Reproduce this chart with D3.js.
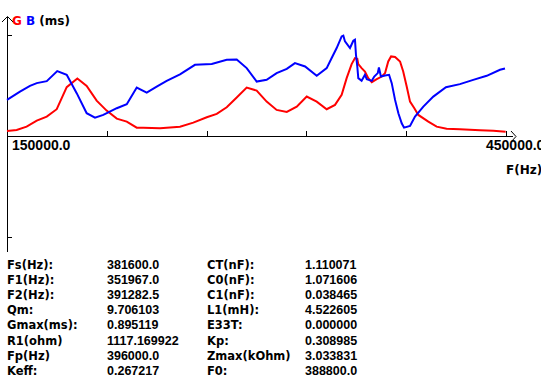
<!DOCTYPE html>
<html>
<head>
<meta charset="utf-8">
<script src="https://cdn.jsdelivr.net/npm/d3@7"></script>
<style>
body{margin:0;background:#fff;overflow:hidden}
text{font-weight:bold}
.names{font-family:'DejaVu Sans',sans-serif}
.nums{font-family:'Liberation Sans',Arial,sans-serif}
</style>
</head>
<body>
<svg id="chart" width="541" height="387"></svg>
<script>
// frequency in kHz, values relative to the top tick
var freqG = [150.0,155.8,161.8,167.9,173.9,179.9,185.9,192.3,197.9,203.9,209.9,216.0,222.0,228.0,231.9,242.0,254.0,262.0,270.1,276.1,282.1,288.1,294.1,300.1,306.1,312.1,318.2,324.2,330.2,336.2,342.2,347.2,351.2,354.2,357.2,359.2,360.6,361.2,363.2,365.2,367.2,369.3,372.3,375.3,377.3,379.2,380.9,383.3,386.3,388.2,390.3,392.3,394.9,397.3,403.3,408.3,414.3,422.3,434.4,442.4,449.8]
var valG = [0.05,0.06,0.093,0.153,0.193,0.267,0.487,0.573,0.50,0.353,0.253,0.173,0.143,0.083,0.083,0.077,0.093,0.133,0.187,0.22,0.287,0.383,0.483,0.453,0.343,0.26,0.24,0.293,0.393,0.343,0.267,0.31,0.41,0.577,0.717,0.777,0.77,0.717,0.677,0.643,0.577,0.537,0.567,0.593,0.627,0.743,0.793,0.787,0.743,0.643,0.493,0.343,0.277,0.21,0.143,0.093,0.073,0.067,0.057,0.053,0.043]

var freqB = [150.0,157.8,163.8,167.9,173.9,180.2,185.9,191.9,197.9,202.9,207.9,216.0,222.0,228.0,234.0,240.0,246.0,254.0,263.0,273.1,282.1,288.1,294.1,300.1,306.1,312.1,318.2,323.1,329.2,336.2,342.2,345.2,348.2,351.2,352.2,353.2,356.2,358.2,359.2,359.8,360.6,361.2,363.2,365.2,366.3,369.3,370.8,372.9,373.6,374.8,377.3,379.7,381.3,383.3,385.3,387.3,388.7,392.3,395.3,400.3,406.3,413.9,422.3,430.3,438.4,446.4,449.4]
var valB = [0.36,0.443,0.50,0.527,0.547,0.647,0.61,0.427,0.227,0.183,0.21,0.277,0.317,0.483,0.433,0.493,0.55,0.615,0.71,0.717,0.76,0.763,0.677,0.543,0.56,0.627,0.67,0.727,0.693,0.60,0.677,0.777,0.877,0.993,1.0,0.943,0.877,0.95,0.96,0.81,0.693,0.577,0.55,0.61,0.567,0.55,0.593,0.627,0.683,0.593,0.603,0.61,0.527,0.36,0.227,0.127,0.083,0.10,0.193,0.293,0.393,0.487,0.517,0.56,0.60,0.66,0.673]

var xTicks = [150,210,270,330,390,450]
var xLabels = ['150000.0','450000.0']

var leftNames = ['Fs(Hz):','F1(Hz):','F2(Hz):','Qm:','Gmax(ms):','R1(ohm)','Fp(Hz)','Keff:']
var leftValues = ['381600.0','351967.0','391282.5','9.706103','0.895119','1117.169922','396000.0','0.267217']
var rightNames = ['CT(nF):','C0(nF):','C1(nF):','L1(mH):','E33T:','Kp:','Zmax(kOhm)','F0:']
var rightValues = ['1.110071','1.071606','0.038465','4.522605','0.000000','0.308985','3.033831','388800.0']

var svg = d3.select('#chart')

var x = d3.scaleLinear().domain([150, 450]).range([7, 506])
var y = d3.scaleLinear().domain([0, 1]).range([136, 35.7])

// axes
svg.append('line').attr('x1', 7.5).attr('x2', 7.5).attr('y1', 17).attr('y2', 252)
    .attr('stroke', 'black')
svg.append('path').attr('d', 'M2,22 L7.5,16.5 L13,22').attr('fill', 'none').attr('stroke', 'black')
svg.append('line').attr('x1', 7).attr('x2', 513).attr('y1', 136.5).attr('y2', 136.5)
    .attr('stroke', 'black')
svg.append('path').attr('d', 'M511,131 L516,136.5 L511,142').attr('fill', 'none').attr('stroke', 'black')

// y ticks
svg.append('line').attr('x1', 7).attr('x2', 12).attr('y1', 35.5).attr('y2', 35.5).attr('stroke', 'black')
svg.append('line').attr('x1', 7).attr('x2', 12).attr('y1', 237.5).attr('y2', 237.5).attr('stroke', 'black')

svg.selectAll('line.xtick').data(xTicks)
    .enter()
    .append('line')
    .attr('class', 'xtick')
    .attr('x1', function(d){ return Math.round(x(d)) + 0.5 })
    .attr('x2', function(d){ return Math.round(x(d)) + 0.5 })
    .attr('y1', 131)
    .attr('y2', 136)
    .attr('stroke', 'black')

svg.selectAll('text.xlab').data(xLabels)
    .enter()
    .append('text')
    .attr('class', 'xlab nums')
    .attr('x', function(d, i){ return i == 0 ? 12 : 486 })
    .attr('y', 150)
    .attr('font-size', '14px')
    .text(function(d){ return d })

svg.append('text').attr('class', 'names').attr('x', 506).attr('y', 174)
    .attr('font-size', '12px').text('F(Hz)')

// title
var title = svg.append('text').attr('class', 'names').attr('x', 12).attr('y', 25).attr('font-size', '12px')
title.append('tspan').attr('fill', 'red').text('G ')
title.append('tspan').attr('fill', 'blue').text('B ')
title.append('tspan').attr('fill', 'black').text('(ms)')

// curves
var line = d3.line()
    .x(function(d){ return x(d[0]) })
    .y(function(d){ return y(d[1]) })

svg.append('path')
    .datum(d3.zip(freqG, valG))
    .attr('d', line)
    .attr('fill', 'none')
    .attr('stroke', '#ff0000')
    .attr('stroke-width', 2)

svg.append('path')
    .datum(d3.zip(freqB, valB))
    .attr('d', line)
    .attr('fill', 'none')
    .attr('stroke', '#0000ff')
    .attr('stroke-width', 2)

// table
var cols = [[leftNames, 7, 'names', '11.5px'], [leftValues, 107, 'nums', '12.5px'],
            [rightNames, 207, 'names', '11.5px'], [rightValues, 305, 'nums', '12.5px']]
for(var c = 0; c < cols.length; c++){
    svg.selectAll('text.col' + c).data(cols[c][0])
        .enter()
        .append('text')
        .attr('class', 'col' + c + ' ' + cols[c][2])
        .attr('x', cols[c][1])
        .attr('y', function(d, i){ return 268.5 + i * 15.2 })
        .attr('font-size', cols[c][3])
        .text(function(d){ return d })
}
</script>
</body>
</html>
